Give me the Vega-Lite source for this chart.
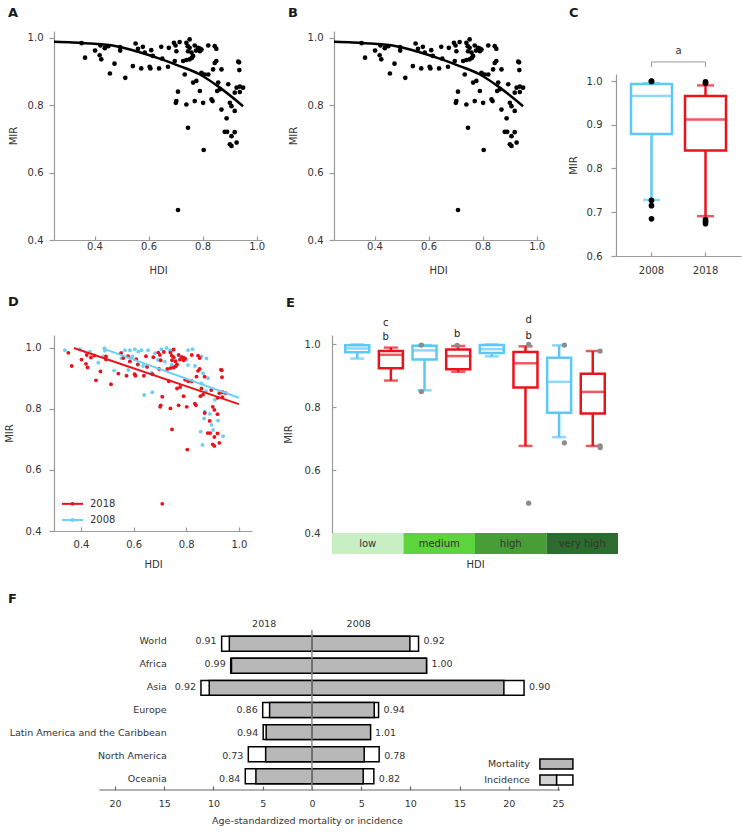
{
"$schema":"https://vega.github.io/schema/vega-lite/v6.json",
"padding":{"left":4,"top":7,"right":2,"bottom":2},
"config":{
 "font":"DejaVu Sans",
 "view":{"stroke":null},
 "axis":{"domainColor":"#9a9a9a","tickColor":"#9a9a9a","labelColor":"#333333","titleColor":"#333333","labelFontSize":10,"titleFontSize":10,"titleFontWeight":"normal","grid":false,"domainWidth":1.2,"tickWidth":1.2},
 "title":{"fontSize":13,"fontWeight":"bold","anchor":"start","frame":"group","color":"#1a1a1a","baseline":"alphabetic"}
},
"datasets":{
 "pts":[
  {"year":"2008","hdi":0.339,"mir":0.993},{"year":"2008","hdi":0.396,"mir":0.996},{"year":"2008","hdi":0.434,"mir":0.988},{"year":"2008","hdi":0.466,"mir":0.952},{"year":"2008","hdi":0.489,"mir":0.999},{"year":"2008","hdi":0.491,"mir":0.991},{"year":"2008","hdi":0.485,"mir":0.972},{"year":"2008","hdi":0.526,"mir":0.926},{"year":"2008","hdi":0.554,"mir":0.985},{"year":"2008","hdi":0.554,"mir":0.966},{"year":"2008","hdi":0.567,"mir":0.993},{"year":"2008","hdi":0.58,"mir":0.928},{"year":"2008","hdi":0.586,"mir":0.993},{"year":"2008","hdi":0.595,"mir":0.972},{"year":"2008","hdi":0.605,"mir":0.996},{"year":"2008","hdi":0.618,"mir":0.988},{"year":"2008","hdi":0.63,"mir":0.993},{"year":"2008","hdi":0.636,"mir":0.941},{"year":"2008","hdi":0.655,"mir":0.993},{"year":"2008","hdi":0.668,"mir":0.919},{"year":"2008","hdi":0.64,"mir":0.846},{"year":"2008","hdi":0.671,"mir":0.855},{"year":"2008","hdi":0.681,"mir":0.983},{"year":"2008","hdi":0.706,"mir":0.996},{"year":"2008","hdi":0.725,"mir":1.0},{"year":"2008","hdi":0.738,"mir":0.993},{"year":"2008","hdi":0.75,"mir":0.993},{"year":"2008","hdi":0.693,"mir":0.961},{"year":"2008","hdi":0.719,"mir":0.955},{"year":"2008","hdi":0.757,"mir":0.963},{"year":"2008","hdi":0.807,"mir":0.993},{"year":"2008","hdi":0.824,"mir":0.996},{"year":"2008","hdi":0.801,"mir":0.961},{"year":"2008","hdi":0.807,"mir":0.944},{"year":"2008","hdi":0.833,"mir":0.941},{"year":"2008","hdi":0.858,"mir":0.972},{"year":"2008","hdi":0.877,"mir":0.966},{"year":"2008","hdi":0.864,"mir":0.917},{"year":"2008","hdi":0.883,"mir":0.901},{"year":"2008","hdi":0.858,"mir":0.884},{"year":"2008","hdi":0.896,"mir":0.862},{"year":"2008","hdi":0.909,"mir":0.83},{"year":"2008","hdi":0.871,"mir":0.791},{"year":"2008","hdi":0.89,"mir":0.784},{"year":"2008","hdi":0.868,"mir":0.769},{"year":"2008","hdi":0.896,"mir":0.748},{"year":"2008","hdi":0.921,"mir":0.762},{"year":"2008","hdi":0.855,"mir":0.726},{"year":"2008","hdi":0.902,"mir":0.731},{"year":"2008","hdi":0.94,"mir":0.711},{"year":"2008","hdi":0.862,"mir":0.682},{"year":"2008","hdi":0.875,"mir":0.858},{"year":"2008","hdi":0.781,"mir":0.972},{"year":"2008","hdi":0.745,"mir":0.945},
  {"year":"2018","hdi":0.352,"mir":0.984},{"year":"2018","hdi":0.365,"mir":0.941},{"year":"2018","hdi":0.402,"mir":0.962},{"year":"2018","hdi":0.419,"mir":0.948},{"year":"2018","hdi":0.422,"mir":0.977},{"year":"2018","hdi":0.425,"mir":0.936},{"year":"2018","hdi":0.438,"mir":0.969},{"year":"2018","hdi":0.451,"mir":0.975},{"year":"2018","hdi":0.457,"mir":0.894},{"year":"2018","hdi":0.474,"mir":0.923},{"year":"2018","hdi":0.495,"mir":0.972},{"year":"2018","hdi":0.495,"mir":0.962},{"year":"2018","hdi":0.514,"mir":0.881},{"year":"2018","hdi":0.542,"mir":0.916},{"year":"2018","hdi":0.552,"mir":0.983},{"year":"2018","hdi":0.561,"mir":0.967},{"year":"2018","hdi":0.573,"mir":0.909},{"year":"2018","hdi":0.579,"mir":0.973},{"year":"2018","hdi":0.586,"mir":0.956},{"year":"2018","hdi":0.604,"mir":0.914},{"year":"2018","hdi":0.607,"mir":0.909},{"year":"2018","hdi":0.61,"mir":0.963},{"year":"2018","hdi":0.616,"mir":0.946},{"year":"2018","hdi":0.639,"mir":0.909},{"year":"2018","hdi":0.647,"mir":0.973},{"year":"2018","hdi":0.651,"mir":0.938},{"year":"2018","hdi":0.672,"mir":0.914},{"year":"2018","hdi":0.675,"mir":0.97},{"year":"2018","hdi":0.694,"mir":0.985},{"year":"2018","hdi":0.7,"mir":0.977},{"year":"2018","hdi":0.715,"mir":0.987},{"year":"2018","hdi":0.74,"mir":0.985},{"year":"2018","hdi":0.752,"mir":0.995},{"year":"2018","hdi":0.752,"mir":0.97},{"year":"2018","hdi":0.746,"mir":0.96},{"year":"2018","hdi":0.759,"mir":0.956},{"year":"2018","hdi":0.771,"mir":0.977},{"year":"2018","hdi":0.783,"mir":0.97},{"year":"2018","hdi":0.79,"mir":0.96},{"year":"2018","hdi":0.796,"mir":0.965},{"year":"2018","hdi":0.821,"mir":0.977},{"year":"2018","hdi":0.845,"mir":0.975},{"year":"2018","hdi":0.851,"mir":0.967},{"year":"2018","hdi":0.697,"mir":0.931},{"year":"2018","hdi":0.728,"mir":0.931},{"year":"2018","hdi":0.74,"mir":0.934},{"year":"2018","hdi":0.752,"mir":0.936},{"year":"2018","hdi":0.765,"mir":0.946},{"year":"2018","hdi":0.703,"mir":0.96},{"year":"2018","hdi":0.734,"mir":0.891},{"year":"2018","hdi":0.796,"mir":0.896},{"year":"2018","hdi":0.808,"mir":0.891},{"year":"2018","hdi":0.821,"mir":0.891},{"year":"2018","hdi":0.765,"mir":0.867},{"year":"2018","hdi":0.777,"mir":0.872},{"year":"2018","hdi":0.79,"mir":0.842},{"year":"2018","hdi":0.851,"mir":0.931},{"year":"2018","hdi":0.839,"mir":0.906},{"year":"2018","hdi":0.87,"mir":0.906},{"year":"2018","hdi":0.858,"mir":0.867},{"year":"2018","hdi":0.854,"mir":0.842},{"year":"2018","hdi":0.864,"mir":0.847},{"year":"2018","hdi":0.895,"mir":0.862},{"year":"2018","hdi":0.932,"mir":0.929},{"year":"2018","hdi":0.936,"mir":0.904},{"year":"2018","hdi":0.926,"mir":0.852},{"year":"2018","hdi":0.938,"mir":0.855},{"year":"2018","hdi":0.95,"mir":0.852},{"year":"2018","hdi":0.919,"mir":0.837},{"year":"2018","hdi":0.938,"mir":0.839},{"year":"2018","hdi":0.709,"mir":0.84},{"year":"2018","hdi":0.703,"mir":0.812},{"year":"2018","hdi":0.701,"mir":0.807},{"year":"2018","hdi":0.74,"mir":0.802},{"year":"2018","hdi":0.771,"mir":0.812},{"year":"2018","hdi":0.802,"mir":0.807},{"year":"2018","hdi":0.833,"mir":0.817},{"year":"2018","hdi":0.837,"mir":0.812},{"year":"2018","hdi":0.87,"mir":0.787},{"year":"2018","hdi":0.901,"mir":0.807},{"year":"2018","hdi":0.907,"mir":0.797},{"year":"2018","hdi":0.919,"mir":0.783},{"year":"2018","hdi":0.889,"mir":0.761},{"year":"2018","hdi":0.746,"mir":0.733},{"year":"2018","hdi":0.882,"mir":0.721},{"year":"2018","hdi":0.891,"mir":0.721},{"year":"2018","hdi":0.919,"mir":0.72},{"year":"2018","hdi":0.907,"mir":0.708},{"year":"2018","hdi":0.901,"mir":0.684},{"year":"2018","hdi":0.907,"mir":0.679},{"year":"2018","hdi":0.926,"mir":0.689},{"year":"2018","hdi":0.804,"mir":0.667},{"year":"2018","hdi":0.709,"mir":0.489},{"year":"2018","hdi":0.935,"mir":0.927},{"year":"2018","hdi":0.776,"mir":0.962},{"year":"2018","hdi":0.79,"mir":0.968},{"year":"2018","hdi":0.745,"mir":0.975},{"year":"2018","hdi":0.76,"mir":0.94},{"year":"2018","hdi":0.845,"mir":0.925}
 ],
 "curve":[{"hdi":0.25,"mir":0.988},{"hdi":0.32,"mir":0.986},{"hdi":0.4,"mir":0.982},{"hdi":0.48,"mir":0.975},{"hdi":0.567,"mir":0.957},{"hdi":0.641,"mir":0.938},{"hdi":0.715,"mir":0.916},{"hdi":0.79,"mir":0.891},{"hdi":0.864,"mir":0.852},{"hdi":0.95,"mir":0.797}],
 "dlines":[{"year":"2008","hdi":0.485,"mir":0.998},{"year":"2008","hdi":1.0,"mir":0.837},{"year":"2018","hdi":0.373,"mir":1.0},{"year":"2018","hdi":1.0,"mir":0.816}],
 "cbox":[{"year":"2008","lower":0.728,"q1":0.879,"median":0.966,"q3":0.993,"upper":0.995},{"year":"2018","lower":0.691,"q1":0.841,"median":0.912,"q3":0.966,"upper":0.99}],
 "cpts":[{"year":"2008","v":1.0},{"year":"2008","v":0.999},{"year":"2008","v":0.727},{"year":"2008","v":0.715},{"year":"2008","v":0.685},{"year":"2018","v":0.995},{"year":"2018","v":0.998},{"year":"2018","v":0.683},{"year":"2018","v":0.674},{"year":"2018","v":0.679}],
 "cbr":[{"x":0,"y":1.032,"o":1},{"x":0,"y":1.0435,"o":2},{"x":1,"y":1.0435,"o":3},{"x":1,"y":1.032,"o":4}],
 "cbrt":[{"x":0.5,"y":1.068,"t":"a"}],
 "ebox":[
  {"grp":"low|2008","year":"2008","lower":0.955,"q1":0.975,"median":0.987,"q3":0.997,"upper":1.0},
  {"grp":"low|2018","year":"2018","lower":0.885,"q1":0.924,"median":0.967,"q3":0.979,"upper":0.99},
  {"grp":"medium|2008","year":"2008","lower":0.854,"q1":0.952,"median":0.981,"q3":0.996,"upper":0.998},
  {"grp":"medium|2018","year":"2018","lower":0.913,"q1":0.921,"median":0.963,"q3":0.984,"upper":0.995},
  {"grp":"high|2008","year":"2008","lower":0.962,"q1":0.973,"median":0.985,"q3":0.998,"upper":1.0},
  {"grp":"high|2018","year":"2018","lower":0.677,"q1":0.863,"median":0.94,"q3":0.976,"upper":0.994},
  {"grp":"very high|2008","year":"2008","lower":0.705,"q1":0.783,"median":0.881,"q3":0.958,"upper":0.997},
  {"grp":"very high|2018","year":"2018","lower":0.677,"q1":0.78,"median":0.849,"q3":0.907,"upper":0.979}
 ],
 "epts":[{"grp":"medium|2008","v":0.998},{"grp":"medium|2008","v":0.85},{"grp":"medium|2018","v":0.997},{"grp":"high|2018","v":1.0},{"grp":"high|2018","v":0.495},{"grp":"very high|2008","v":0.998},{"grp":"very high|2008","v":0.687},{"grp":"very high|2018","v":0.979},{"grp":"very high|2018","v":0.677},{"grp":"very high|2018","v":0.672}],
 "elet":[{"grp":"low|2018","y":1.023,"t":"b"},{"grp":"low|2018","y":1.068,"t":"c"},{"grp":"medium|2018","y":1.034,"t":"b"},{"grp":"high|2018","y":1.028,"t":"b"},{"grp":"high|2018","y":1.079,"t":"d"}],
 "hdicat":[{"cat":"low"},{"cat":"medium"},{"cat":"high"},{"cat":"very high"}],
 "f":[
  {"region":"World","year":"2018","measure":"Incidence","value":-9.17,"mir":"0.91"},
  {"region":"World","year":"2008","measure":"Incidence","value":10.83,"mir":"0.92"},
  {"region":"Africa","year":"2018","measure":"Incidence","value":-8.25,"mir":"0.99"},
  {"region":"Africa","year":"2008","measure":"Incidence","value":11.64,"mir":"1.00"},
  {"region":"Asia","year":"2018","measure":"Incidence","value":-11.27,"mir":"0.92"},
  {"region":"Asia","year":"2008","measure":"Incidence","value":21.55,"mir":"0.90"},
  {"region":"Europe","year":"2018","measure":"Incidence","value":-5.0,"mir":"0.86"},
  {"region":"Europe","year":"2008","measure":"Incidence","value":6.77,"mir":"0.94"},
  {"region":"Latin America and the Caribbean","year":"2018","measure":"Incidence","value":-4.95,"mir":"0.94"},
  {"region":"Latin America and the Caribbean","year":"2008","measure":"Incidence","value":5.9,"mir":"1.01"},
  {"region":"North America","year":"2018","measure":"Incidence","value":-6.46,"mir":"0.73"},
  {"region":"North America","year":"2008","measure":"Incidence","value":6.83,"mir":"0.78"},
  {"region":"Oceania","year":"2018","measure":"Incidence","value":-6.77,"mir":"0.84"},
  {"region":"Oceania","year":"2008","measure":"Incidence","value":6.29,"mir":"0.82"},
  {"region":"World","year":"2018","measure":"Mortality","value":-8.39},
  {"region":"World","year":"2008","measure":"Mortality","value":9.95},
  {"region":"Africa","year":"2018","measure":"Mortality","value":-8.17},
  {"region":"Africa","year":"2008","measure":"Mortality","value":11.64},
  {"region":"Asia","year":"2018","measure":"Mortality","value":-10.43},
  {"region":"Asia","year":"2008","measure":"Mortality","value":19.5},
  {"region":"Europe","year":"2018","measure":"Mortality","value":-4.3},
  {"region":"Europe","year":"2008","measure":"Mortality","value":6.33},
  {"region":"Latin America and the Caribbean","year":"2018","measure":"Mortality","value":-4.65},
  {"region":"Latin America and the Caribbean","year":"2008","measure":"Mortality","value":5.96},
  {"region":"North America","year":"2018","measure":"Mortality","value":-4.7},
  {"region":"North America","year":"2008","measure":"Mortality","value":5.31},
  {"region":"Oceania","year":"2018","measure":"Mortality","value":-5.69},
  {"region":"Oceania","year":"2008","measure":"Mortality","value":5.21}
 ]
},
"resolve":{"scale":{"color":"independent","fill":"independent","stroke":"independent"}},
"vconcat":[
 {"resolve":{"scale":{"color":"independent","fill":"independent","stroke":"independent"}},
  "vconcat":[
  {"resolve":{"scale":{"color":"independent","fill":"independent","stroke":"independent"}},
   "hconcat":[
   {"width":208,"height":209,"title":{"text":"A","dx":-46,"offset":11},
    "layer":[
     {"data":{"name":"pts"},"transform":[{"filter":"datum.year==='2018'"}],"mark":{"type":"circle","size":22,"color":"#000000","opacity":1},
      "encoding":{"x":{"field":"hdi","type":"quantitative","scale":{"domain":[0.25,1.02],"nice":false,"zero":false},"axis":{"values":[0.4,0.6,0.8,1.0],"format":".1f","title":"HDI","tickSize":-4,"labelPadding":5,"titlePadding":14}},
       "y":{"field":"mir","type":"quantitative","scale":{"domain":[0.4,1.02],"nice":false,"zero":false},"axis":{"values":[0.4,0.5,0.6,0.7,0.8,0.9,1.0],"labelExpr":"round(datum.value*10)%2==0 ? format(datum.value,'.1f') : ''","title":"MIR","tickSize":5,"labelPadding":6,"titlePadding":9}}}},
     {"data":{"name":"curve"},"mark":{"type":"line","color":"#000000","strokeWidth":2.5,"interpolate":"monotone"},
      "encoding":{"x":{"field":"hdi","type":"quantitative"},"y":{"field":"mir","type":"quantitative"}}}
    ]},
   {"width":208,"height":209,"title":{"text":"B","dx":-46,"offset":11},
    "layer":[
     {"data":{"name":"pts"},"transform":[{"filter":"datum.year==='2018'"}],"mark":{"type":"circle","size":22,"color":"#000000","opacity":1},
      "encoding":{"x":{"field":"hdi","type":"quantitative","scale":{"domain":[0.25,1.02],"nice":false,"zero":false},"axis":{"values":[0.4,0.6,0.8,1.0],"format":".1f","title":"HDI","tickSize":-4,"labelPadding":5,"titlePadding":14}},
       "y":{"field":"mir","type":"quantitative","scale":{"domain":[0.4,1.02],"nice":false,"zero":false},"axis":{"values":[0.4,0.5,0.6,0.7,0.8,0.9,1.0],"labelExpr":"round(datum.value*10)%2==0 ? format(datum.value,'.1f') : ''","title":"MIR","tickSize":5,"labelPadding":6,"titlePadding":9}}}},
     {"data":{"name":"curve"},"mark":{"type":"line","color":"#000000","strokeWidth":2.5,"interpolate":"monotone"},
      "encoding":{"x":{"field":"hdi","type":"quantitative"},"y":{"field":"mir","type":"quantitative"}}}
    ]},
   {"vconcat":[
     {"width":125,"height":43,"title":{"text":"C","dx":-47,"offset":11},
      "layer":[
       {"data":{"name":"cbr"},"mark":{"type":"line","color":"#999999","strokeWidth":1},
        "encoding":{"x":{"field":"x","type":"quantitative","scale":{"domain":[-0.657,1.657],"nice":false,"zero":false},"axis":null},"y":{"field":"y","type":"quantitative","scale":{"domain":[1.016,1.114],"nice":false,"zero":false},"axis":null},"order":{"field":"o","type":"quantitative"}}},
       {"data":{"name":"cbrt"},"mark":{"type":"text","fontSize":10,"color":"#333333"},
        "encoding":{"x":{"field":"x","type":"quantitative","axis":null},"y":{"field":"y","type":"quantitative","axis":null},"text":{"field":"t"}}}
      ]},
     {"width":125,"height":182,
      "encoding":{"x":{"field":"year","type":"nominal","scale":{"domain":["2008","2018"],"paddingInner":0,"paddingOuter":0.157},"axis":{"title":null,"labelAngle":0,"tickSize":-4,"labelPadding":13}}},
      "layer":[
       {"data":{"name":"cbox"},"mark":{"type":"rule","strokeWidth":2.5},"encoding":{"y":{"field":"lower","type":"quantitative","scale":{"domain":[0.6,1.016],"nice":false,"zero":false},"axis":{"values":[0.6,0.7,0.8,0.9,1.0],"format":".1f","title":"MIR","tickSize":5,"labelPadding":9,"titlePadding":8}},"y2":{"field":"q1"},"color":{"field":"year","type":"nominal","scale":{"domain":["2008","2018"],"range":["#5bc8f5","#e8141c"]},"legend":null}}},
       {"data":{"name":"cbox"},"mark":{"type":"rule","strokeWidth":2.5},"encoding":{"y":{"field":"q3","type":"quantitative"},"y2":{"field":"upper"},"color":{"field":"year","type":"nominal","legend":null}}},
       {"data":{"name":"cbox"},"mark":{"type":"bar","size":41,"fill":"#ffffff","strokeWidth":2.5},"encoding":{"y":{"field":"q1","type":"quantitative"},"y2":{"field":"q3"},"stroke":{"field":"year","type":"nominal","scale":{"domain":["2008","2018"],"range":["#5bc8f5","#e8141c"]},"legend":null}}},
       {"data":{"name":"cbox"},"mark":{"type":"tick","size":41,"thickness":2.5},"encoding":{"y":{"field":"median","type":"quantitative"},"color":{"field":"year","type":"nominal","legend":null}}},
       {"data":{"name":"cbox"},"mark":{"type":"tick","size":17,"thickness":2.5},"encoding":{"y":{"field":"lower","type":"quantitative"},"color":{"field":"year","type":"nominal","legend":null}}},
       {"data":{"name":"cbox"},"mark":{"type":"tick","size":17,"thickness":2.5},"encoding":{"y":{"field":"upper","type":"quantitative"},"color":{"field":"year","type":"nominal","legend":null}}},
       {"data":{"name":"cpts"},"mark":{"type":"circle","size":32,"color":"#000000","opacity":1},"encoding":{"y":{"field":"v","type":"quantitative"}}}
      ]}
    ],"spacing":0,"bounds":"flush","resolve":{"scale":{"color":"independent","fill":"independent","stroke":"independent"}}}
  ],"spacing":23},
  {"resolve":{"scale":{"color":"independent","fill":"independent","stroke":"independent"}},
   "hconcat":[
   {"width":198,"height":196,"title":{"text":"D","dx":-46,"offset":26},
    "layer":[
     {"data":{"name":"pts"},"mark":{"type":"circle","size":15,"opacity":1},
      "encoding":{"x":{"field":"hdi","type":"quantitative","scale":{"domain":[0.2975,1.05],"nice":false,"zero":false},"axis":{"values":[0.4,0.6,0.8,1.0],"format":".1f","title":"HDI","tickSize":-4,"labelPadding":12,"titlePadding":10}},
       "y":{"field":"mir","type":"quantitative","scale":{"domain":[0.4,1.0426],"nice":false,"zero":false},"axis":{"values":[0.4,0.5,0.6,0.7,0.8,0.9,1.0],"labelExpr":"round(datum.value*10)%2==0 ? format(datum.value,'.1f') : ''","title":"MIR","tickSize":5,"labelPadding":8,"titlePadding":11}},
       "fill":{"field":"year","type":"nominal","scale":{"domain":["2018","2008"],"range":["#e8141c","#6ccff6"]},"legend":null}}},
     {"data":{"name":"dlines"},"mark":{"type":"line","strokeWidth":2},
      "encoding":{"x":{"field":"hdi","type":"quantitative"},"y":{"field":"mir","type":"quantitative"},
       "stroke":{"field":"year","type":"nominal","scale":{"domain":["2018","2008"],"range":["#e8141c","#6ccff6"]},"legend":null}}},
     {"data":{"values":[{"year":"2018"}]},"mark":{"type":"rule","strokeWidth":2},"encoding":{"x":{"datum":0.328},"x2":{"datum":0.408},"y":{"datum":0.489},"stroke":{"field":"year","type":"nominal","legend":null}}},
     {"data":{"values":[{"year":"2018"}]},"mark":{"type":"circle","size":15,"opacity":1},"encoding":{"x":{"datum":0.368},"y":{"datum":0.489},"fill":{"field":"year","type":"nominal","legend":null}}},
     {"data":{"values":[{"year":"2018"}]},"mark":{"type":"text","align":"left","fontSize":10,"color":"#333333"},"encoding":{"x":{"datum":0.434},"y":{"datum":0.489},"text":{"field":"year"}}},
     {"data":{"values":[{"year":"2008"}]},"mark":{"type":"rule","strokeWidth":2},"encoding":{"x":{"datum":0.328},"x2":{"datum":0.408},"y":{"datum":0.436},"stroke":{"field":"year","type":"nominal","legend":null}}},
     {"data":{"values":[{"year":"2008"}]},"mark":{"type":"circle","size":15,"opacity":1},"encoding":{"x":{"datum":0.368},"y":{"datum":0.436},"fill":{"field":"year","type":"nominal","legend":null}}},
     {"data":{"values":[{"year":"2008"}]},"mark":{"type":"text","align":"left","fontSize":10,"color":"#333333"},"encoding":{"x":{"datum":0.434},"y":{"datum":0.436},"text":{"field":"year"}}}
    ]},
   {"vconcat":[
     {"width":286,"height":198,"title":{"text":"E","dx":-46,"offset":5},
      "encoding":{"x":{"field":"grp","type":"nominal","scale":{"domain":["low|2008","low|2018","medium|2008","medium|2018","high|2008","high|2018","very high|2008","very high|2018"],"paddingInner":0,"paddingOuter":0.25},"axis":null}},
      "layer":[
       {"data":{"name":"ebox"},"mark":{"type":"rule","strokeWidth":2.5},"encoding":{"y":{"field":"lower","type":"quantitative","scale":{"domain":[0.4,1.03],"nice":false,"zero":false},"axis":{"values":[0.4,0.5,0.6,0.7,0.8,0.9,1.0],"labelExpr":"round(datum.value*10)%2==0 ? format(datum.value,'.1f') : ''","title":"MIR","tickSize":-4,"labelPadding":16,"titlePadding":11}},"y2":{"field":"q1"},"color":{"field":"year","type":"nominal","scale":{"domain":["2018","2008"],"range":["#e8141c","#5bc8f5"]},"legend":null}}},
       {"data":{"name":"ebox"},"mark":{"type":"rule","strokeWidth":2.5},"encoding":{"y":{"field":"q3","type":"quantitative"},"y2":{"field":"upper"},"color":{"field":"year","type":"nominal","legend":null}}},
       {"data":{"name":"ebox"},"mark":{"type":"bar","size":24,"fill":"#ffffff","strokeWidth":2.5},"encoding":{"y":{"field":"q1","type":"quantitative"},"y2":{"field":"q3"},
         "stroke":{"field":"year","type":"nominal","scale":{"domain":["2018","2008"],"range":["#e8141c","#5bc8f5"]},"legend":null}}},
       {"data":{"name":"ebox"},"mark":{"type":"tick","size":24,"thickness":2.5},"encoding":{"y":{"field":"median","type":"quantitative"},"color":{"field":"year","type":"nominal","legend":null}}},
       {"data":{"name":"ebox"},"mark":{"type":"tick","size":14,"thickness":2.5},"encoding":{"y":{"field":"lower","type":"quantitative"},"color":{"field":"year","type":"nominal","legend":null}}},
       {"data":{"name":"ebox"},"mark":{"type":"tick","size":14,"thickness":2.5},"encoding":{"y":{"field":"upper","type":"quantitative"},"color":{"field":"year","type":"nominal","legend":null}}},
       {"data":{"name":"epts"},"mark":{"type":"circle","size":28,"color":"#8c8c8c","opacity":1},"encoding":{"y":{"field":"v","type":"quantitative"}}},
       {"data":{"name":"elet"},"mark":{"type":"text","fontSize":10,"color":"#222222"},"encoding":{"y":{"field":"y","type":"quantitative"},"text":{"field":"t"}}},
       {"data":{"values":[{"year":"2018"}]},"mark":{"type":"rect","fill":"#ffffff","strokeWidth":2},"encoding":{"x":{"datum":0.022,"type":"quantitative","scale":{"domain":[0,1],"nice":false,"zero":false},"axis":null},"x2":{"datum":0.0955},"y":{"datum":0.5016},"y2":{"datum":0.4825},"stroke":{"field":"year","type":"nominal","legend":null}}},
       {"data":{"values":[{"year":"2018"}]},"mark":{"type":"text","align":"left","fontSize":10,"color":"#333333"},"encoding":{"x":{"datum":0.121,"type":"quantitative","scale":{"domain":[0,1],"nice":false,"zero":false},"axis":null},"y":{"datum":0.492},"text":{"field":"year"}}},
       {"data":{"values":[{"year":"2008"}]},"mark":{"type":"rect","fill":"#ffffff","strokeWidth":2},"encoding":{"x":{"datum":0.022,"type":"quantitative","scale":{"domain":[0,1],"nice":false,"zero":false},"axis":null},"x2":{"datum":0.0955},"y":{"datum":0.4476},"y2":{"datum":0.4254},"stroke":{"field":"year","type":"nominal","legend":null}}},
       {"data":{"values":[{"year":"2008"}]},"mark":{"type":"text","align":"left","fontSize":10,"color":"#333333"},"encoding":{"x":{"datum":0.121,"type":"quantitative","scale":{"domain":[0,1],"nice":false,"zero":false},"axis":null},"y":{"datum":0.4365},"text":{"field":"year"}}}
      ],
      "resolve":{"scale":{"x":"independent"}}},
     {"width":286,"height":21,"data":{"name":"hdicat"},
      "layer":[
       {"mark":{"type":"bar"},"encoding":{"x":{"field":"cat","type":"nominal","sort":null,"scale":{"domain":["low","medium","high","very high"],"paddingInner":0,"paddingOuter":0},"axis":{"title":"HDI","labels":false,"ticks":false,"domain":false,"titlePadding":5}},
         "fill":{"field":"cat","type":"nominal","scale":{"domain":["low","medium","high","very high"],"range":["#c8eec3","#5cd43b","#479e37","#2c6c2e"]},"legend":null}}},
       {"mark":{"type":"text","fontSize":10,"color":"#333333"},"encoding":{"x":{"field":"cat","type":"nominal"},"text":{"field":"cat"}}}
      ]}
    ],"spacing":0,"bounds":"flush","resolve":{"scale":{"color":"independent","fill":"independent","stroke":"independent"}}}
  ],"spacing":31}
 ],"spacing":21},
 {"width":506,"height":160,"title":{"text":"F","dx":-46,"offset":12},
  "data":{"name":"f"},
  "layer":[
   {"mark":{"type":"bar","stroke":"#000000","strokeWidth":1.5},
    "encoding":{"y":{"field":"region","type":"nominal","sort":["World","Africa","Asia","Europe","Latin America and the Caribbean","North America","Oceania"],"scale":{"paddingInner":0.324,"paddingOuter":0.28},"axis":null},
     "x":{"field":"value","type":"quantitative","stack":null,"scale":{"domain":[-26.2,25.2],"nice":false,"zero":false},"axis":{"orient":"bottom","values":[-20,-15,-10,-5,0,5,10,15,20,25],"labelExpr":"'' + abs(datum.value)","title":"Age-standardized mortality or incidence","tickSize":-4,"labelPadding":12,"titlePadding":8,"labelFontSize":9.5,"titleFontSize":9.5,"domain":false,"tickColor":"#666666"}},
     "x2":{"datum":0},
     "fill":{"condition":{"test":"datum.measure==='Mortality'","value":"#b8b8b8"},"value":"#ffffff"}}},
   {"transform":[{"filter":"datum.measure==='Incidence' && datum.year==='2018'"}],"mark":{"type":"text","align":"right","dx":-5,"fontSize":9.5,"color":"#333333"},
    "encoding":{"y":{"field":"region","type":"nominal","sort":["World","Africa","Asia","Europe","Latin America and the Caribbean","North America","Oceania"],"scale":{"paddingInner":0.324,"paddingOuter":0.28},"axis":null},"x":{"field":"value","type":"quantitative","axis":null},"text":{"field":"mir"}}},
   {"transform":[{"filter":"datum.measure==='Incidence' && datum.year==='2008'"}],"mark":{"type":"text","align":"left","dx":5,"fontSize":9.5,"color":"#333333"},
    "encoding":{"y":{"field":"region","type":"nominal","sort":["World","Africa","Asia","Europe","Latin America and the Caribbean","North America","Oceania"],"scale":{"paddingInner":0.324,"paddingOuter":0.28},"axis":null},"x":{"field":"value","type":"quantitative","axis":null},"text":{"field":"mir"}}},
   {"transform":[{"filter":"datum.measure==='Incidence' && datum.year==='2018'"}],"mark":{"type":"text","align":"right","fontSize":9.5,"color":"#333333"},
    "encoding":{"y":{"field":"region","type":"nominal","sort":["World","Africa","Asia","Europe","Latin America and the Caribbean","North America","Oceania"],"scale":{"paddingInner":0.324,"paddingOuter":0.28},"axis":null},"x":{"datum":-14.75,"type":"quantitative","axis":null},"text":{"field":"region"}}},
   {"data":{"values":[{"k":1}]},"mark":{"type":"rule","color":"#666666","strokeWidth":1.2},
    "encoding":{"x":{"datum":-21.6,"type":"quantitative","axis":null},"x2":{"datum":25.2},"y":{"datum":0,"type":"quantitative","scale":{"domain":[0,1],"nice":false,"zero":false},"axis":null}}},
   {"data":{"values":[{"k":1}]},"mark":{"type":"rule","color":"#8a8a8a","strokeWidth":1.5},
    "encoding":{"x":{"datum":0,"type":"quantitative","axis":{"orient":"top","values":[-4.9,4.7],"labelExpr":"datum.value < 0 ? '2018' : '2008'","ticks":false,"domain":false,"labelPadding":2,"labelFontSize":9.5,"title":null}}}},
   {"data":{"values":[{"k":"Mortality"}]},"mark":{"type":"rect","fill":"#b8b8b8","stroke":"#000000","strokeWidth":1.5},
    "encoding":{"x":{"datum":23.16,"type":"quantitative","axis":null},"x2":{"datum":26.51},"y":{"datum":0.194,"type":"quantitative","scale":{"domain":[0,1],"nice":false,"zero":false},"axis":null},"y2":{"datum":0.131}}},
   {"data":{"values":[{"k":"Incidence"}]},"mark":{"type":"rect","fill":"#d3d3d3","stroke":"#000000","strokeWidth":1.5},
    "encoding":{"x":{"datum":23.16,"type":"quantitative","axis":null},"x2":{"datum":24.86},"y":{"datum":0.094,"type":"quantitative","scale":{"domain":[0,1],"nice":false,"zero":false},"axis":null},"y2":{"datum":0.031}}},
   {"data":{"values":[{"k":"Incidence"}]},"mark":{"type":"rect","fill":"#ffffff","stroke":"#000000","strokeWidth":1.5},
    "encoding":{"x":{"datum":24.86,"type":"quantitative","axis":null},"x2":{"datum":26.51},"y":{"datum":0.094,"type":"quantitative","scale":{"domain":[0,1],"nice":false,"zero":false},"axis":null},"y2":{"datum":0.031}}},
   {"data":{"values":[{"k":"Mortality"}]},"mark":{"type":"text","align":"right","fontSize":9.5,"color":"#333333"},
    "encoding":{"x":{"datum":22.15,"type":"quantitative","axis":null},"y":{"datum":0.1625,"type":"quantitative","scale":{"domain":[0,1],"nice":false,"zero":false},"axis":null},"text":{"field":"k"}}},
   {"data":{"values":[{"k":"Incidence"}]},"mark":{"type":"text","align":"right","fontSize":9.5,"color":"#333333"},
    "encoding":{"x":{"datum":22.15,"type":"quantitative","axis":null},"y":{"datum":0.0625,"type":"quantitative","scale":{"domain":[0,1],"nice":false,"zero":false},"axis":null},"text":{"field":"k"}}}
  ],
  "resolve":{"scale":{"y":"independent"},"axis":{"x":"independent","y":"independent"}}}
],"spacing":24
}
